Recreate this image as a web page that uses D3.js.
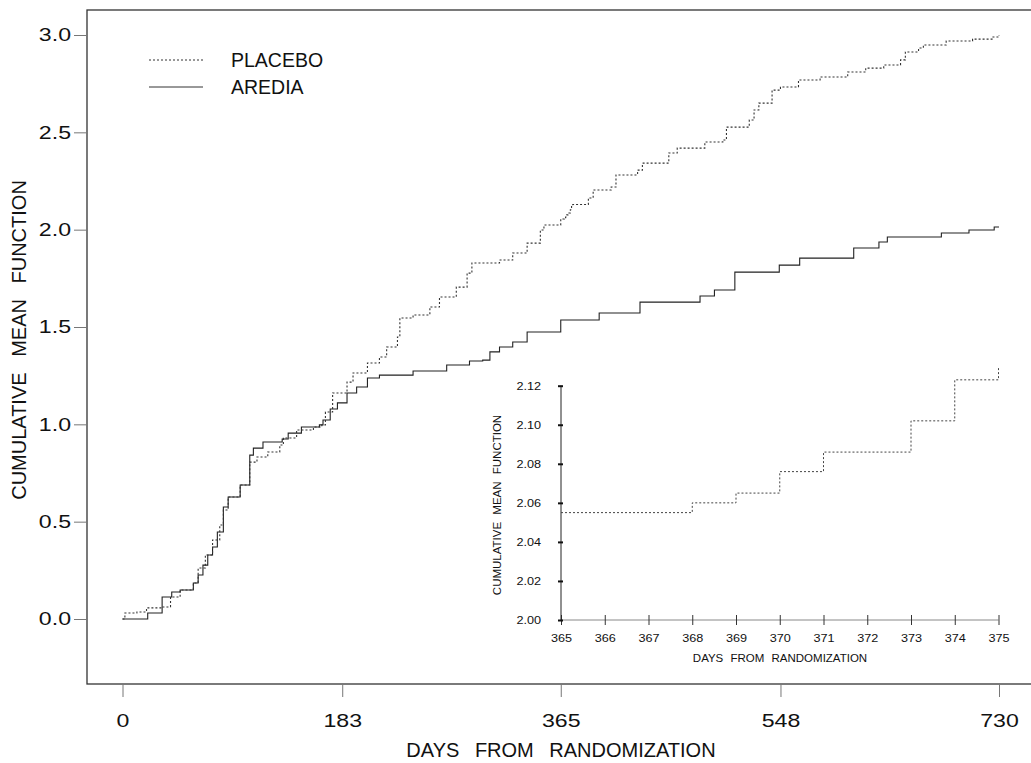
<!DOCTYPE html>
<html>
<head>
<meta charset="utf-8">
<script src="https://cdn.jsdelivr.net/npm/d3@7"></script>
<style>
  body { margin: 0; background: #fff; }
  svg { font-family: "Liberation Sans", Arial, sans-serif; }
</style>
</head>
<body>
<div id="container"></div>
<script>
/**
 * CONSTANTS AND GLOBALS
 * */
const width = 1031,
  height = 763;

// main panel
const xTicks = [0, 183, 365, 548, 730];
const yTicks = [0, 0.5, 1.0, 1.5, 2.0, 2.5, 3.0];

// PLACEBO (dotted) step curve: [day, cumulative mean]
const placeboDays = [0, 2, 12, 20, 33, 40, 48, 59, 63, 69, 75, 81, 84, 88, 98, 106, 112, 121, 131, 134, 145, 159, 166, 169, 175, 187, 192, 204, 214, 220, 229, 231, 242, 256, 264, 278, 287, 291, 314, 325, 337, 348, 351, 365, 368, 369, 370, 371, 373, 374, 375, 388, 392, 407, 411, 429, 433, 455, 462, 485, 500, 503, 522, 526, 530, 541, 548, 563, 581, 604, 619, 634, 648, 652, 663, 667, 686, 708, 725, 730];
const placeboVals = [0, 0.031, 0.036, 0.057, 0.062, 0.113, 0.149, 0.185, 0.262, 0.329, 0.406, 0.483, 0.560, 0.627, 0.688, 0.806, 0.832, 0.858, 0.894, 0.930, 0.971, 0.986, 0.997, 1.063, 1.161, 1.217, 1.264, 1.315, 1.346, 1.397, 1.449, 1.546, 1.562, 1.603, 1.654, 1.705, 1.777, 1.829, 1.844, 1.880, 1.931, 1.998, 2.024, 2.055, 2.060, 2.065, 2.076, 2.086, 2.102, 2.123, 2.129, 2.163, 2.204, 2.219, 2.281, 2.306, 2.342, 2.394, 2.419, 2.450, 2.461, 2.527, 2.563, 2.615, 2.650, 2.717, 2.733, 2.769, 2.784, 2.810, 2.830, 2.846, 2.872, 2.913, 2.933, 2.949, 2.969, 2.979, 2.990, 3.000];

// AREDIA (solid) step curve
const arediaDays = [0, 21, 33, 41, 48, 59, 63, 67, 71, 75, 79, 84, 88, 98, 106, 109, 117, 133, 138, 149, 164, 167, 173, 179, 187, 195, 204, 214, 242, 270, 289, 300, 306, 314, 325, 337, 365, 397, 431, 481, 493, 510, 547, 564, 609, 630, 637, 682, 705, 726, 730];
const arediaVals = [0, 0.031, 0.113, 0.139, 0.149, 0.185, 0.226, 0.277, 0.329, 0.370, 0.447, 0.575, 0.627, 0.688, 0.842, 0.878, 0.909, 0.925, 0.955, 0.986, 0.997, 1.022, 1.079, 1.110, 1.161, 1.192, 1.238, 1.253, 1.274, 1.305, 1.325, 1.330, 1.372, 1.397, 1.423, 1.474, 1.536, 1.572, 1.628, 1.659, 1.690, 1.782, 1.818, 1.854, 1.906, 1.937, 1.962, 1.983, 1.998, 2.014, 2.014];

// inset (PLACEBO, days 365-375)
const insetXTicks = [365, 366, 367, 368, 369, 370, 371, 372, 373, 374, 375];
const insetYTicks = [2.00, 2.02, 2.04, 2.06, 2.08, 2.10, 2.12];
const insetDays = [365, 368, 369, 370, 371, 373, 374, 375, 375];
const insetVals = [2.055, 2.060, 2.065, 2.076, 2.086, 2.102, 2.123, 2.123, 2.129];

const legendNames = ["PLACEBO", "AREDIA"];

/**
 * DRAW
 * */
const svg = d3.select("#container")
  .append("svg")
  .attr("width", width)
  .attr("height", height);

// the digits in the original are wider than Arial's, so stretch them a bit
function widen(sel, k) {
  sel.each(function () {
    const w = this.getComputedTextLength();
    d3.select(this).attr("textLength", w * k).attr("lengthAdjust", "spacingAndGlyphs");
  });
}

const xScale = d3.scaleLinear().domain([0, 730]).range([122.5, 999]);
const yScale = d3.scaleLinear().domain([0, 3]).range([619, 35]);

// frame (right side runs off the picture)
svg.append("rect")
  .attr("x", 87).attr("y", 10)
  .attr("width", 960).attr("height", 674)
  .attr("fill", "none")
  .attr("stroke", "#333")
  .attr("stroke-width", 1.3);

const xAxis = svg.append("g")
  .attr("transform", "translate(0,684)")
  .call(d3.axisBottom(xScale).tickValues(xTicks).tickSize(13).tickPadding(17));

const yAxis = svg.append("g")
  .attr("transform", "translate(87,0)")
  .call(d3.axisLeft(yScale).tickValues(yTicks).tickFormat(d3.format(".1f")).tickSize(13).tickPadding(3));

[xAxis, yAxis].forEach(g => {
  g.select(".domain").remove();
  g.selectAll(".tick line").attr("stroke", "#777");
  g.selectAll(".tick text")
    .attr("fill", "#111")
    .style("font-size", "18.5px")
    .style("font-family", "'Liberation Sans', Arial, sans-serif")
    .call(widen, 1.25);
});

svg.append("text")
  .attr("x", 561).attr("y", 757)
  .attr("text-anchor", "middle")
  .attr("fill", "#111")
  .style("font-size", "20px")
  .style("word-spacing", "10px")
  .text("DAYS FROM RANDOMIZATION");

svg.append("text")
  .attr("transform", "translate(26,340) rotate(-90)")
  .attr("text-anchor", "middle")
  .attr("fill", "#111")
  .style("font-size", "20px")
  .style("word-spacing", "10px")
  .text("CUMULATIVE MEAN FUNCTION");

const stepLine = d3.line()
  .x(d => xScale(d[0]))
  .y(d => yScale(d[1]))
  .curve(d3.curveStepAfter);

svg.append("path")
  .datum(d3.zip(arediaDays, arediaVals))
  .attr("d", stepLine)
  .attr("fill", "none")
  .attr("stroke", "#222")
  .attr("stroke-width", 1.1);

svg.append("path")
  .datum(d3.zip(placeboDays, placeboVals))
  .attr("d", stepLine)
  .attr("fill", "none")
  .attr("stroke", "#333")
  .attr("stroke-width", 1.1)
  .attr("stroke-dasharray", "2,2");

// legend
const legend = svg.selectAll("g.legend")
  .data(legendNames)
  .join("g")
  .attr("class", "legend")
  .attr("transform", (d, i) => `translate(149,${60 + i * 27})`);

legend.append("line")
  .attr("x1", 0).attr("x2", 54)
  .attr("stroke", "#333")
  .attr("stroke-width", 1)
  .attr("stroke-dasharray", (d, i) => i === 0 ? "2,2" : null);

legend.append("text")
  .attr("x", 82).attr("dy", "0.36em")
  .attr("fill", "#111")
  .style("font-size", "19.5px")
  .text(d => d);

// inset
const ix = d3.scaleLinear().domain([365, 375]).range([561, 998.5]);
const iy = d3.scaleLinear().domain([2.00, 2.12]).range([620, 385.7]);

const insetX = svg.append("g")
  .attr("transform", "translate(0,620)")
  .call(d3.axisBottom(ix).tickValues(insetXTicks).tickSize(5).tickPadding(9));
insetX.select(".domain").attr("stroke", "#888").attr("d", `M${ix(365)},0H${ix(375)}`);
insetX.selectAll(".tick line").attr("y1", -5).attr("stroke", "#333");

const insetY = svg.append("g")
  .attr("transform", "translate(561,0)")
  .call(d3.axisLeft(iy).tickValues(insetYTicks).tickFormat(d3.format(".2f")).tickSize(3).tickPadding(17));
insetY.select(".domain").attr("stroke", "#222").attr("d", `M0,${iy(2.12)}V${iy(2.00)}`);
insetY.selectAll(".tick line").attr("x1", 2).attr("stroke", "#111").attr("stroke-width", 2);

[insetX, insetY].forEach(g => {
  g.selectAll(".tick text")
    .attr("fill", "#111")
    .style("font-size", "11.5px")
    .style("font-family", "'Liberation Sans', Arial, sans-serif")
    .call(widen, 1.1);
});

svg.append("text")
  .attr("x", 780).attr("y", 662)
  .attr("text-anchor", "middle")
  .attr("fill", "#111")
  .style("font-size", "11.5px")
  .style("word-spacing", "4px")
  .text("DAYS FROM RANDOMIZATION");

svg.append("text")
  .attr("transform", "translate(501,505) rotate(-90)")
  .attr("text-anchor", "middle")
  .attr("fill", "#111")
  .style("font-size", "11.5px")
  .style("word-spacing", "4px")
  .text("CUMULATIVE MEAN FUNCTION");

svg.append("path")
  .datum(d3.zip(insetDays, insetVals))
  .attr("d", d3.line().x(d => ix(d[0])).y(d => iy(d[1])).curve(d3.curveStepAfter))
  .attr("fill", "none")
  .attr("stroke", "#444")
  .attr("stroke-width", 1)
  .attr("stroke-dasharray", "2,2");
</script>
</body>
</html>
